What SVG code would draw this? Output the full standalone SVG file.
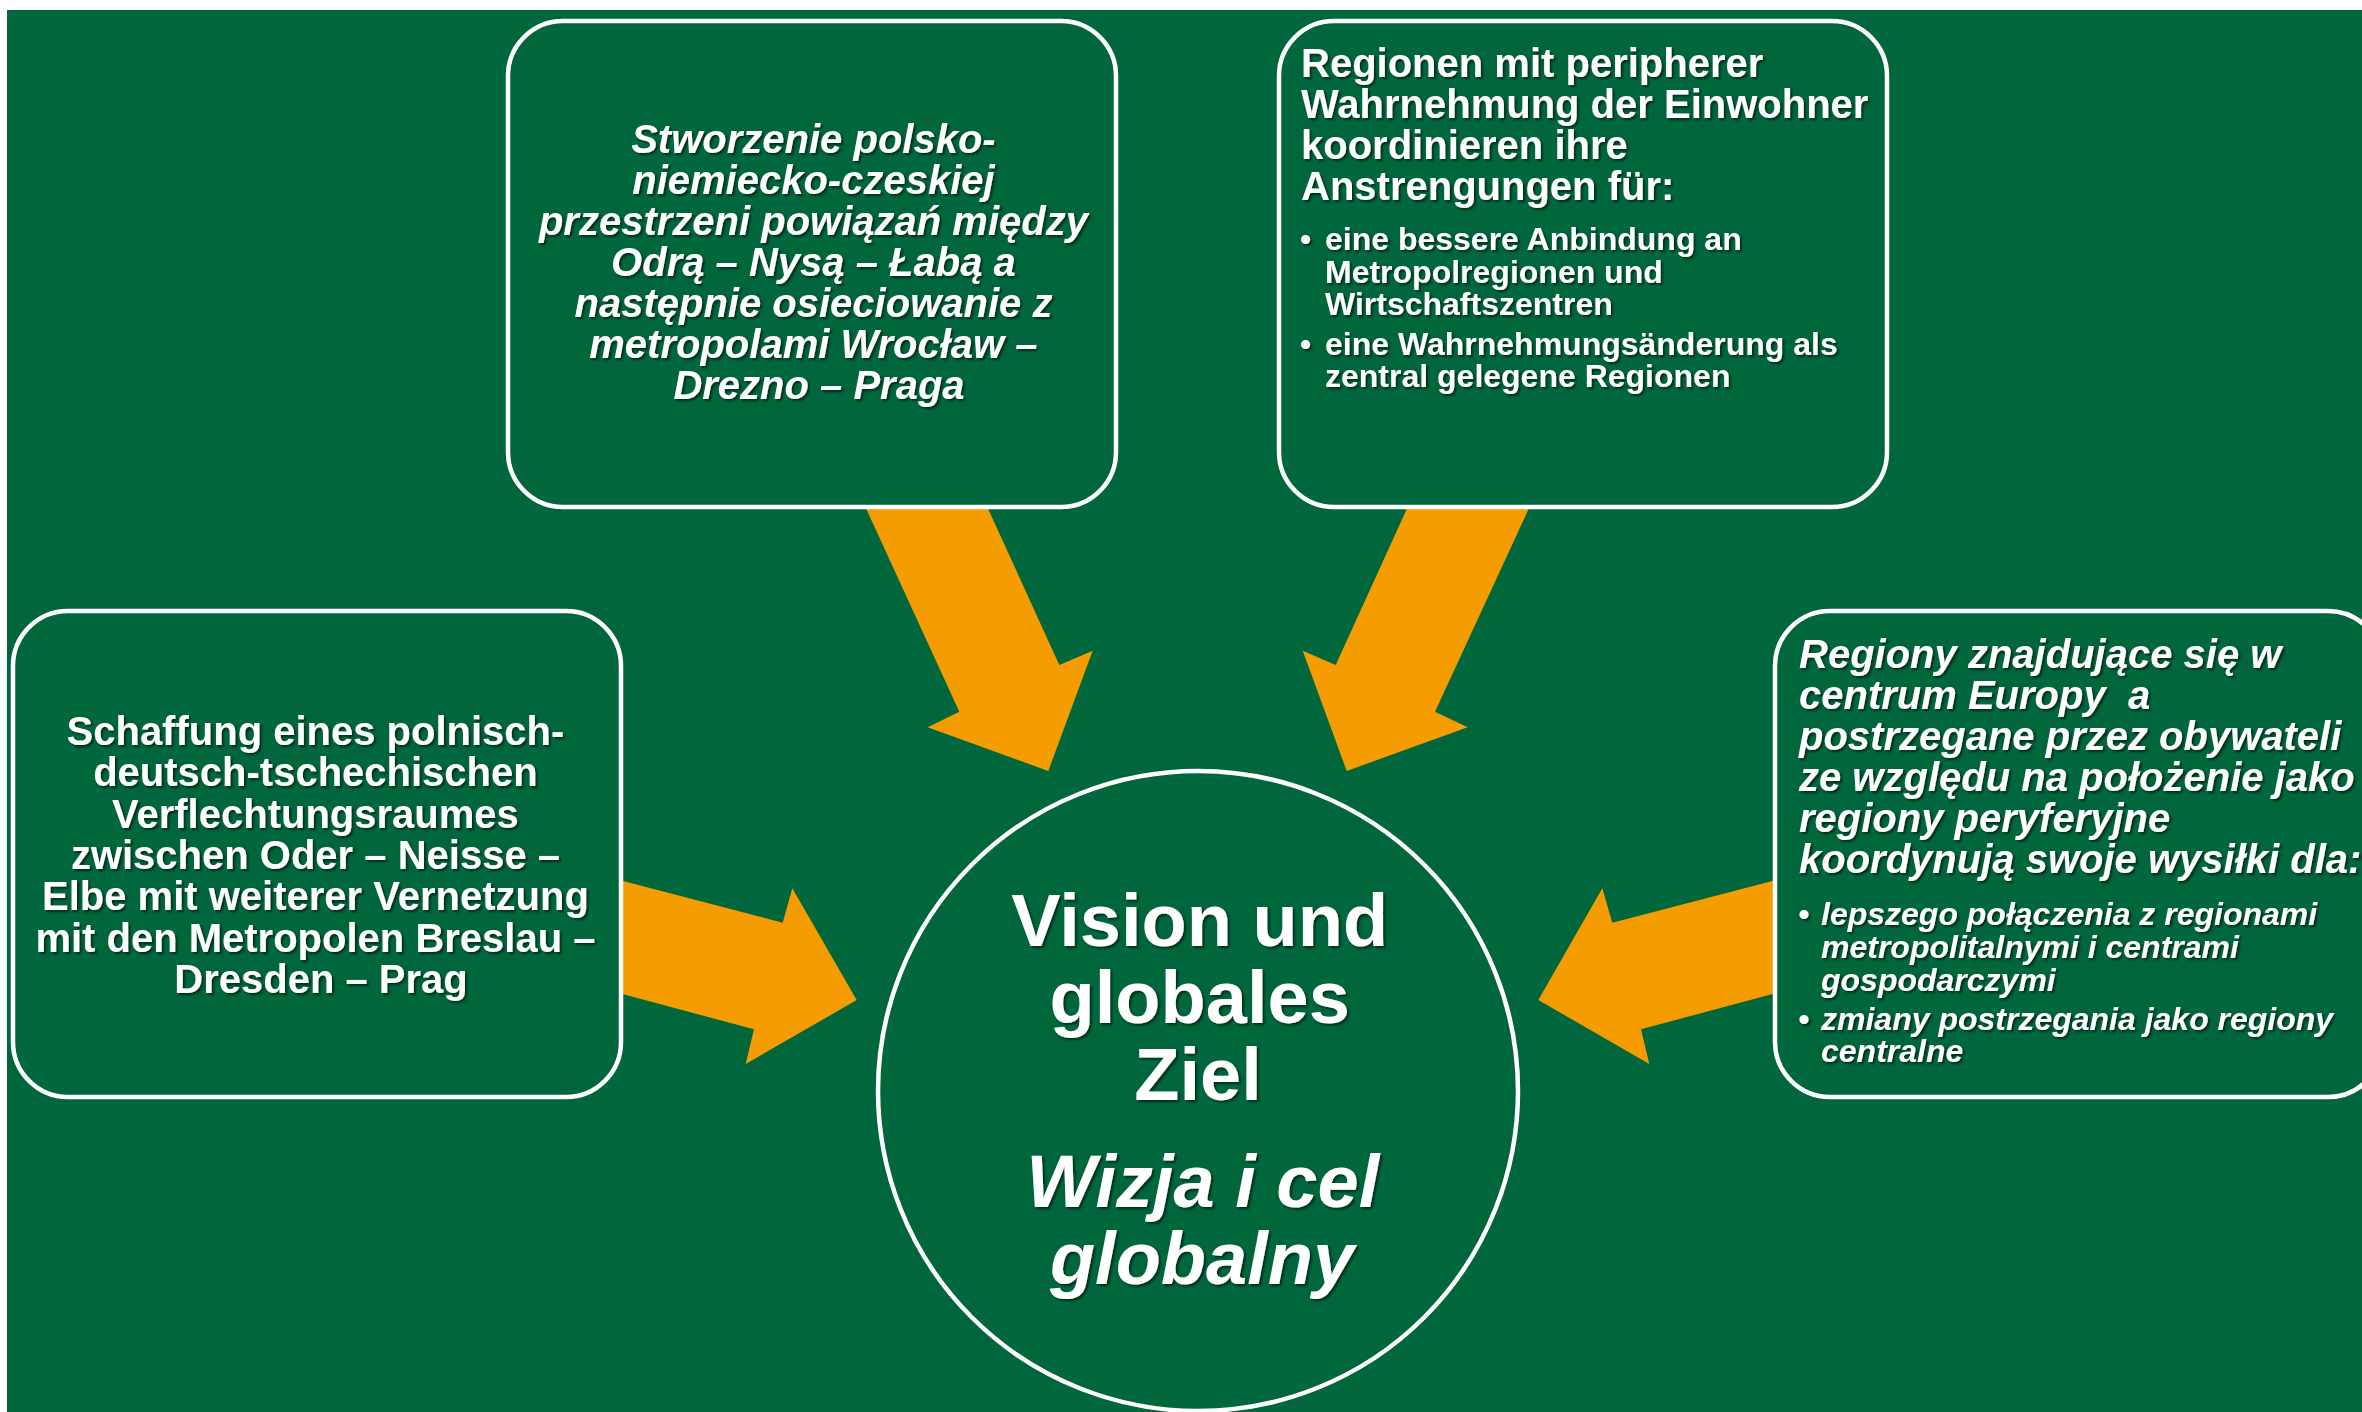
<svg xmlns="http://www.w3.org/2000/svg" width="2362" height="1412" viewBox="0 0 2362 1412">
<defs>
<filter id="sh" x="-5%" y="-20%" width="110%" height="140%">
<feDropShadow dx="2" dy="2" stdDeviation="1" flood-color="#000" flood-opacity="0.55"/>
</filter>
</defs>
<style>
.bg{fill:#00663C}
.box{fill:#00663C;stroke:#fff;stroke-width:4.5}
.arr{fill:#F59C00}
text{font-family:"Liberation Sans",Arial,sans-serif;font-weight:bold;fill:#fff;filter:url(#sh)}
.c{text-anchor:middle}
.i{font-style:italic}
.t40{font-size:40px}
.t32{font-size:32px}
.t74{font-size:74px}
</style>
<rect x="0" y="0" width="2362" height="1412" fill="#fff"/>
<rect class="bg" x="7" y="10" width="2355" height="1402"/>
<g id="connectors">
<polygon class="arr" points="853,480 975,480 1059.3,665 1092.7,650.7 1048.3,771 927.7,727.3 959.3,711.7"/>
<polygon class="arr" points="1542,480 1420,480 1335.7,665 1302.7,650.7 1346.7,771 1467.7,727.3 1435,711.7"/>
<polygon class="arr" points="600,875 782.7,922.7 792.3,888.3 856.7,1000 745.7,1064 754,1029.3 600,988"/>
<polygon class="arr" points="1795,875 1612.3,922.7 1602.3,888.3 1538.3,1000 1649.3,1064 1641,1029.3 1795,988"/>
</g>
<g id="node-top-middle">
<rect class="box" x="508" y="21" width="608" height="486" rx="55" ry="55"/>
<text class="c i t40">
<tspan x="819" y="153">Stworzenie polsko-</tspan>
<tspan x="819" y="194">niemiecko-czeskiej</tspan>
<tspan x="819" y="235">przestrzeni powiązań między</tspan>
<tspan x="819" y="276">Odrą – Nysą – Łabą a</tspan>
<tspan x="819" y="317">następnie osieciowanie z</tspan>
<tspan x="819" y="358">metropolami Wrocław –</tspan>
<tspan x="819" y="399">Drezno – Praga</tspan>
</text>
</g>
<g id="node-top-right">
<rect class="box" x="1279" y="21" width="608" height="486" rx="55" ry="55"/>
<text class="t40">
<tspan x="1301" y="77">Regionen mit peripherer</tspan>
<tspan x="1301" y="118">Wahrnehmung der Einwohner</tspan>
<tspan x="1301" y="159">koordinieren ihre</tspan>
<tspan x="1301" y="200">Anstrengungen für:</tspan>
</text>
<text class="t32">
<tspan x="1300" y="250">•</tspan>
<tspan x="1325" y="250">eine bessere Anbindung an</tspan>
<tspan x="1325" y="283">Metropolregionen und</tspan>
<tspan x="1325" y="315">Wirtschaftszentren</tspan>
<tspan x="1300" y="355">•</tspan>
<tspan x="1325" y="355">eine Wahrnehmungsänderung als</tspan>
<tspan x="1325" y="387">zentral gelegene Regionen</tspan>
</text>
</g>
<g id="node-left">
<rect class="box" x="13" y="611" width="608" height="486" rx="55" ry="55"/>
<text class="c t40">
<tspan x="321" y="745">Schaffung eines polnisch-</tspan>
<tspan x="321" y="786">deutsch-tschechischen</tspan>
<tspan x="321" y="828">Verflechtungsraumes</tspan>
<tspan x="321" y="869">zwischen Oder – Neisse –</tspan>
<tspan x="321" y="910">Elbe mit weiterer Vernetzung</tspan>
<tspan x="321" y="952">mit den Metropolen Breslau –</tspan>
<tspan x="321" y="993">Dresden – Prag</tspan>
</text>
</g>
<g id="node-right">
<rect class="box" x="1775" y="611" width="608" height="486" rx="55" ry="55"/>
<text class="i t40" xml:space="preserve"><tspan x="1799" y="668">Regiony znajdujące się w</tspan><tspan x="1799" y="709">centrum Europy  a</tspan><tspan x="1799" y="750">postrzegane przez obywateli</tspan><tspan x="1799" y="791">ze względu na położenie jako</tspan><tspan x="1799" y="832">regiony peryferyjne</tspan><tspan x="1799" y="873">koordynują swoje wysiłki dla:</tspan></text>
<text class="i t32">
<tspan x="1798" y="925">•</tspan>
<tspan x="1821" y="925">lepszego połączenia z regionami</tspan>
<tspan x="1821" y="958">metropolitalnymi i centrami</tspan>
<tspan x="1821" y="991">gospodarczymi</tspan>
<tspan x="1798" y="1030">•</tspan>
<tspan x="1821" y="1030">zmiany postrzegania jako regiony</tspan>
<tspan x="1821" y="1062">centralne</tspan>
</text>
</g>
<g id="node-center">
<circle class="box" cx="1198" cy="1091" r="320"/>
<text class="c t74">
<tspan x="1210" y="946">Vision und</tspan>
<tspan x="1210" y="1023">globales</tspan>
<tspan x="1198" y="1100">Ziel</tspan>
</text>
<text class="c i t74">
<tspan x="1213" y="1207">Wizja i cel</tspan>
<tspan x="1202" y="1284">globalny</tspan>
</text>
</g>
</svg>
